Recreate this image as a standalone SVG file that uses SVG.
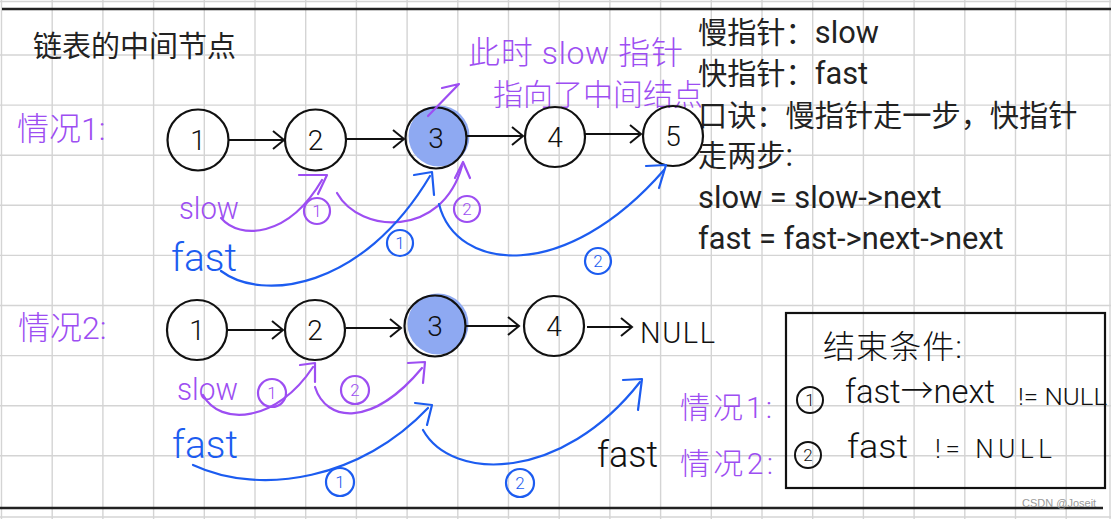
<svg xmlns="http://www.w3.org/2000/svg" width="1111" height="519" viewBox="0 0 1111 519">
<style>
.grid line{stroke:#d4d4d4;stroke-width:1.4}
.node circle{fill:none;stroke:#111;stroke-width:2.2}
.num{font-family:"Roboto","Noto Sans CJK SC",sans-serif;font-weight:300;font-size:28px;fill:#111;text-anchor:middle}
.txt{font-family:"Roboto","Noto Sans CJK SC",sans-serif;font-size:29.2px;fill:#222}
.lat{font-size:30.8px}
.hand{font-family:"Roboto","Noto Sans CJK SC",sans-serif;font-weight:300}
.pu{fill:#9d4ef2}
.bl{fill:#1c5cf0}
.bk{fill:#111}
.link{stroke:#111;stroke-width:2;fill:none}
.pc{stroke:#9d4ef2;stroke-width:2.2;fill:none;stroke-linecap:round;stroke-linejoin:round}
.bc{stroke:#1c5cf0;stroke-width:2.2;fill:none;stroke-linecap:round;stroke-linejoin:round}
.kc{stroke:#111;stroke-width:2;fill:none}
.badge{font-family:"Roboto",sans-serif;font-weight:300;font-size:17px;text-anchor:middle}
</style>
<defs>
<marker id="ah" markerUnits="userSpaceOnUse" markerWidth="14" markerHeight="22" refX="12" refY="10" orient="auto">
<path d="M1,1 L12,10 L1,19" fill="none" stroke="#111" stroke-width="2"/>
</marker>
</defs>
<rect x="0" y="0" width="1111" height="519" fill="#fff"/>
<g class="grid">
<line x1="1.5" y1="0" x2="1.5" y2="519"/><line x1="52.2" y1="0" x2="52.2" y2="519"/><line x1="102.9" y1="0" x2="102.9" y2="519"/><line x1="153.6" y1="0" x2="153.6" y2="519"/><line x1="204.3" y1="0" x2="204.3" y2="519"/><line x1="255" y1="0" x2="255" y2="519"/><line x1="305.7" y1="0" x2="305.7" y2="519"/><line x1="356.4" y1="0" x2="356.4" y2="519"/><line x1="407.1" y1="0" x2="407.1" y2="519"/><line x1="457.8" y1="0" x2="457.8" y2="519"/><line x1="508.5" y1="0" x2="508.5" y2="519"/><line x1="559.2" y1="0" x2="559.2" y2="519"/><line x1="609.9" y1="0" x2="609.9" y2="519"/><line x1="660.6" y1="0" x2="660.6" y2="519"/><line x1="711.3" y1="0" x2="711.3" y2="519"/><line x1="762" y1="0" x2="762" y2="519"/><line x1="812.7" y1="0" x2="812.7" y2="519"/><line x1="863.4" y1="0" x2="863.4" y2="519"/><line x1="914.1" y1="0" x2="914.1" y2="519"/><line x1="964.8" y1="0" x2="964.8" y2="519"/><line x1="1015.5" y1="0" x2="1015.5" y2="519"/><line x1="1066.2" y1="0" x2="1066.2" y2="519"/><line x1="1110" y1="0" x2="1110" y2="519"/>
<line x1="0" y1="1.5" x2="1111" y2="1.5"/><line x1="0" y1="55" x2="1111" y2="55"/><line x1="0" y1="105.1" x2="1111" y2="105.1"/><line x1="0" y1="155.2" x2="1111" y2="155.2"/><line x1="0" y1="205.3" x2="1111" y2="205.3"/><line x1="0" y1="255.4" x2="1111" y2="255.4"/><line x1="0" y1="305.5" x2="1111" y2="305.5"/><line x1="0" y1="355.6" x2="1111" y2="355.6"/><line x1="0" y1="405.7" x2="1111" y2="405.7"/><line x1="0" y1="455.8" x2="1111" y2="455.8"/><line x1="0" y1="517" x2="1111" y2="517"/>
</g>
<line x1="2" y1="9" x2="1111" y2="9" stroke="#222" stroke-width="2.5"/>
<line x1="0" y1="508" x2="1103" y2="508" stroke="#222" stroke-width="2.5"/>

<text class="txt" x="33" y="57" style="font-size:29px">链表的中间节点</text>
<g id="notes">
<text class="txt" x="698" y="43">慢指针：<tspan class="lat">slow</tspan></text>
<text class="txt" x="698" y="84">快指针：<tspan class="lat">fast</tspan></text>
<text class="txt" x="698" y="126">口诀：慢指针走一步，快指针</text>
<text class="txt" x="698" y="166">走两步<tspan class="lat">:</tspan></text>
<text class="txt lat" x="698" y="208">slow = slow-&gt;next</text>
<text class="txt lat" x="698" y="249">fast = fast-&gt;next-&gt;next</text>
</g>

<g id="case1-label"><text class="hand pu" x="17" y="140" style="font-size:32px">情况1:</text></g>
<g id="case2-label"><text class="hand pu" x="18" y="339" style="font-size:32px">情况2:</text></g>
<g id="mid-note">
<text class="hand pu" x="468" y="64" style="font-size:32px" textLength="215" lengthAdjust="spacing">此时 slow 指针</text>
<text class="hand pu" x="493" y="105" style="font-size:30px">指向了中间结点</text>
</g>

<g id="r1n1" class="node"><circle cx="198" cy="140" r="30.5"/><text class="num" x="198" y="150">1</text></g>
<g id="r1n2" class="node"><circle cx="315.5" cy="140" r="30.5"/><text class="num" x="315.5" y="150">2</text></g>
<g id="r1n3" class="node"><circle cx="439" cy="136" r="30.5" style="fill:#8ea9f2;stroke:none"/><circle cx="436" cy="138" r="30.5"/><text class="num" x="436" y="148">3</text></g>
<g id="r1n4" class="node"><circle cx="555" cy="137" r="30"/><text class="num" x="555" y="147">4</text></g>
<g id="r1n5" class="node"><circle cx="673" cy="136" r="30"/><text class="num" x="673" y="146">5</text></g>

<g id="r2n1" class="node"><circle cx="197" cy="330" r="30"/><text class="num" x="197" y="340">1</text></g>
<g id="r2n2" class="node"><circle cx="315" cy="330" r="30"/><text class="num" x="315" y="340">2</text></g>
<g id="r2n3" class="node"><circle cx="438" cy="324" r="30.5" style="fill:#8ea9f2;stroke:none"/><circle cx="435" cy="326" r="30.5"/><text class="num" x="435" y="336">3</text></g>
<g id="r2n4" class="node"><circle cx="554" cy="326" r="30"/><text class="num" x="554" y="336">4</text></g>
<g id="r2null"><text class="hand bk" x="640" y="343" style="font-size:29px" textLength="75" lengthAdjust="spacing">NULL</text></g>

<g id="connectors">
<path class="link" d="M228,140 L284,140" marker-end="url(#ah)"/>
<path class="link" d="M346,139 L404,139" marker-end="url(#ah)"/>
<path class="link" d="M467,136 L523,136" marker-end="url(#ah)"/>
<path class="link" d="M585,134 L641,134" marker-end="url(#ah)"/>
<path class="link" d="M228,330 L283,330" marker-end="url(#ah)"/>
<path class="link" d="M346,328 L401,328" marker-end="url(#ah)"/>
<path class="link" d="M466,326 L519,326" marker-end="url(#ah)"/>
<path class="link" d="M587,327 L632,327" marker-end="url(#ah)"/>

<path class="pc" d="M442,88 L459,84 L428,116"/>

<path class="pc" d="M221,218 C240,240 288,238 322,180"/>
<path class="pc" d="M299,175 L327,175 L318,194"/>
<path class="pc" d="M337,193 C360,234 442,238 462,166"/>
<path class="pc" d="M455,178 L463,162 L470,178"/>
<path class="bc" d="M221,271 C262,302 362,290 430,176"/>
<path class="bc" d="M414,175 L432,172 L434,195"/>
<path class="bc" d="M439,204 C456,272 565,284 664,170"/>
<path class="bc" d="M646,166 L666,165 L659,188"/>

<path class="pc" d="M203,395 C220,427 277,422 313,367"/>
<path class="pc" d="M300,365 L315,363 L315,382"/>
<path class="pc" d="M315,387 C326,422 372,428 422,368"/>
<path class="pc" d="M408,363 L425,362 L423,383"/>
<path class="bc" d="M193,465 C262,497 362,478 428,408"/>
<path class="bc" d="M415,403 L432,405 L427,425"/>
<path class="bc" d="M423,430 C452,482 562,482 640,382"/>
<path class="bc" d="M623,380 L642,379 L638,410"/>
</g>

<g id="labels">
<text class="hand pu" x="179" y="219" style="font-size:31px" textLength="60" lengthAdjust="spacingAndGlyphs">slow</text>
<text class="hand bl" x="171" y="271" style="font-size:38px" textLength="66" lengthAdjust="spacingAndGlyphs">fast</text>
<text class="hand pu" x="177" y="400" style="font-size:32px" textLength="61" lengthAdjust="spacingAndGlyphs">slow</text>
<text class="hand bl" x="172" y="458" style="font-size:38px" textLength="66" lengthAdjust="spacingAndGlyphs">fast</text>

<circle cx="317" cy="211" r="13" class="pc"/><text class="badge pu" x="317" y="217">1</text>
<circle cx="467" cy="209" r="13" class="pc"/><text class="badge pu" x="467" y="215">2</text>
<circle cx="400" cy="243" r="13" class="bc"/><text class="badge bl" x="400" y="249">1</text>
<circle cx="598" cy="261" r="13" class="bc"/><text class="badge bl" x="598" y="267">2</text>
<circle cx="272" cy="393" r="14" class="pc"/><text class="badge pu" x="272" y="399">1</text>
<circle cx="355" cy="390" r="14" class="pc"/><text class="badge pu" x="355" y="396">2</text>
<circle cx="340" cy="482" r="14" class="bc"/><text class="badge bl" x="340" y="488">1</text>
<circle cx="520" cy="483" r="14" class="bc"/><text class="badge bl" x="520" y="489">2</text>

<text class="hand bk" x="597" y="467" style="font-size:36px" textLength="61" lengthAdjust="spacingAndGlyphs">fast</text>
<text class="hand pu" x="680" y="418" style="font-size:30px" textLength="92" lengthAdjust="spacing">情况1:</text>
<text class="hand pu" x="680" y="474" style="font-size:30px" textLength="93" lengthAdjust="spacing">情况2:</text>
</g>

<g id="end-box">
<rect x="786" y="313" width="319" height="175" fill="none" stroke="#111" stroke-width="2.2"/>
<text class="hand bk" x="823" y="358" style="font-size:32px" textLength="139" lengthAdjust="spacing">结束条件:</text>
<circle cx="810" cy="400" r="13" class="kc"/><text class="badge bk" x="810" y="406">1</text>
<text class="hand bk" x="845" y="403" style="font-size:34px" textLength="150" lengthAdjust="spacingAndGlyphs">fast→next</text>
<text class="hand bk" x="1018" y="405" style="font-size:24px" textLength="89" lengthAdjust="spacingAndGlyphs">!= NULL</text>
<circle cx="808" cy="455" r="13" class="kc"/><text class="badge bk" x="808" y="461">2</text>
<text class="hand bk" x="847" y="458" style="font-size:34px" textLength="61" lengthAdjust="spacingAndGlyphs">fast</text>
<text class="hand bk" x="935" y="458" style="font-size:26px" textLength="117" lengthAdjust="spacing">!= NULL</text>
</g>

<text x="1022" y="507" style="font-family:'Liberation Sans',sans-serif;font-size:11px;fill:#9a9a9a">CSDN @Joseit</text>
</svg>
